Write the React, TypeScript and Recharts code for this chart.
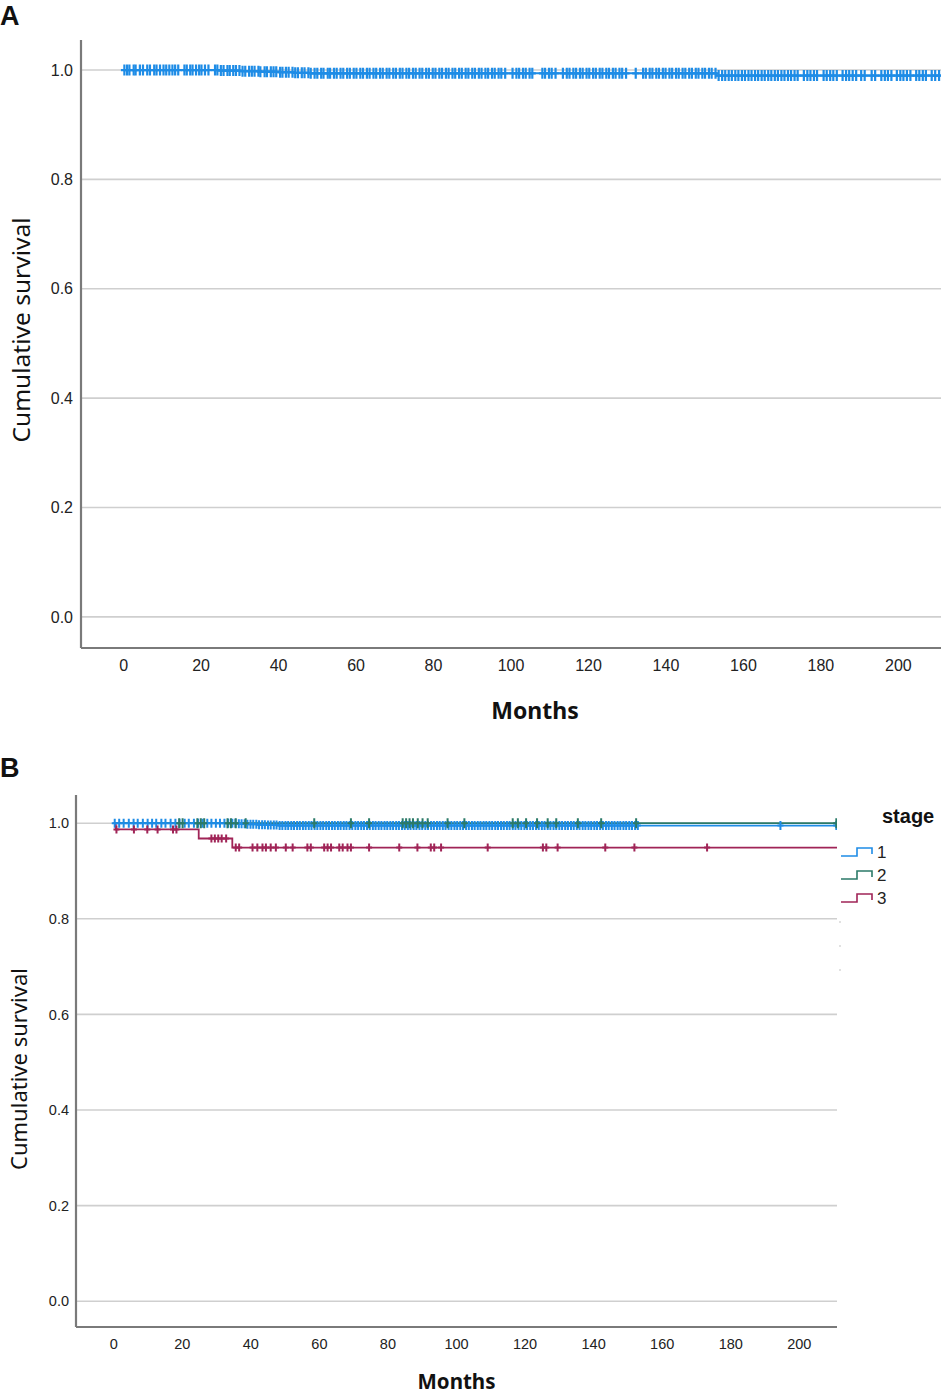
import React from 'react';
import { ComposedChart, Line, Scatter, XAxis, YAxis, CartesianGrid, Legend, Label } from 'recharts';

// ---------- tick labels ----------
const MONTH_TICKS = [0, 20, 40, 60, 80, 100, 120, 140, 160, 180, 200];
const SURV_TICKS = [0, 0.2, 0.4, 0.6, 0.8, 1.0];

// ---------- Panel A: all patients ----------
const A_STEP_TIMES = [0, 25, 30, 35, 40, 44, 48, 153, 211];
const A_STEP_SURV = [1, 0.999, 0.998, 0.997, 0.996, 0.995, 0.994, 0.99, 0.99];
const A_CENSOR = [
  0.2, 0.9, 1.5, 2.6, 3.1, 4.2, 5.0, 6.1, 6.8, 7.9, 8.5, 9.4, 10.3, 11.0, 11.8, 12.6, 13.3, 14.1,
  15.7, 16.3, 17.2, 17.8, 18.7, 19.5, 20.1, 21.0, 21.9, 23.6, 24.2, 25.1, 25.8, 26.8, 27.4, 28.3,
  29.0, 29.9, 30.7, 31.4, 32.4, 33.1, 33.8, 34.8, 35.3, 36.4, 37.0, 38.0, 38.7, 39.4, 40.4, 41.0,
  41.9, 42.6, 43.6, 44.3, 45.0, 46.0, 46.7, 47.7, 48.3, 49.3, 50.0, 51.0, 51.6, 52.7, 53.3, 54.3,
  55.0, 56.0, 56.7, 57.7, 58.4, 59.4, 60.1, 61.1, 61.8, 62.8, 63.5, 64.5, 65.2, 66.2, 66.9, 67.9,
  68.6, 69.6, 70.3, 71.3, 72.0, 73.0, 73.7, 74.7, 75.4, 76.4, 77.1, 78.1, 78.8, 79.8, 80.5, 81.5,
  82.2, 83.2, 83.9, 84.9, 85.6, 86.6, 87.3, 88.3, 89.0, 90.0, 90.7, 91.7, 92.4, 93.4, 94.1, 95.1,
  95.8, 96.8, 97.5, 98.5, 100.4, 101.4, 102.1, 103.1, 103.8, 104.8, 105.5, 108.1, 108.8, 109.8,
  110.5, 111.5, 113.4, 114.4, 115.1, 116.1, 116.8, 117.8, 118.5, 119.5, 120.2, 121.2, 121.9, 122.9,
  123.6, 124.6, 125.3, 126.3, 127.0, 128.0, 128.7, 129.7, 132.2, 134.1, 134.8, 135.8, 136.5, 137.5,
  138.2, 139.2, 139.9, 140.9, 141.6, 142.6, 143.3, 144.3, 145.0, 146.0, 146.7, 147.7, 148.4, 149.4,
  150.1, 151.1, 151.8, 152.8, 153.6, 154.5, 155.3, 156.2, 157.0, 157.9, 158.7, 159.6, 160.4, 161.3,
  162.1, 163.0, 163.8, 164.7, 165.5, 166.4, 167.2, 168.1, 168.9, 169.8, 170.6, 171.5, 172.3, 173.2,
  174.0, 175.6, 176.5, 177.3, 178.2, 179.0, 180.7, 181.5, 182.4, 183.2, 184.1, 185.6, 186.5, 187.3,
  188.2, 189.1, 190.4, 191.3, 193.1, 194.0, 195.6, 196.5, 197.3, 198.2, 199.6, 200.5, 201.3, 202.2,
  203.1, 204.6, 205.4, 206.3, 207.1, 208.6, 209.5, 210.5,
];

// ---------- Panel B: by stage ----------
const STAGE_LABELS = ['1', '2', '3'];
const STAGE_COLORS = ['#1E8CE6', '#2B7A68', '#A02457'];

const S1_STEP_TIMES = [0, 36, 39, 42, 45, 48, 211];
const S1_STEP_SURV = [1, 0.999, 0.998, 0.997, 0.996, 0.995, 0.995];
const S1_CENSOR = [
  0.3, 1.6, 2.9, 4.4, 5.8, 7.0, 8.5, 9.9, 11.2, 12.4, 13.9, 15.1, 16.6, 18.0, 19.2, 20.7, 21.9,
  23.4, 24.6, 25.9, 27.3, 28.5, 29.8, 31.0, 32.3, 33.4, 34.6, 35.5, 36.5, 37.3, 38.2, 39.0, 39.9,
  40.7, 41.6, 42.4, 43.3, 44.1, 45.0, 45.8, 46.7, 47.5, 48.4, 49.2, 50.1, 50.9, 51.8, 52.6, 53.5,
  54.3, 55.2, 56.0, 56.9, 57.7, 58.6, 59.4, 60.3, 61.1, 62.0, 62.8, 63.7, 64.5, 65.4, 66.2, 67.1,
  67.9, 68.8, 69.6, 70.5, 71.3, 72.2, 73.0, 73.9, 74.7, 75.6, 76.4, 77.3, 78.1, 79.0, 79.8, 80.7,
  81.5, 82.4, 83.2, 84.1, 84.9, 85.8, 86.6, 87.5, 88.3, 89.2, 90.0, 90.9, 91.7, 92.6, 93.4, 94.3,
  95.1, 96.0, 96.8, 97.7, 98.5, 99.4, 100.2, 101.1, 101.9, 102.8, 103.6, 104.5, 105.3, 106.2, 107.0,
  107.9, 108.7, 109.6, 110.4, 111.3, 112.1, 113.0, 113.8, 114.7, 115.5, 116.4, 117.2, 118.1, 118.9,
  119.8, 120.6, 121.5, 122.3, 123.2, 124.0, 124.9, 125.7, 126.6, 127.4, 128.3, 129.1, 130.0, 130.8,
  131.7, 132.5, 133.4, 134.2, 135.1, 135.9, 136.8, 137.6, 138.5, 139.3, 140.2, 141.0, 141.9, 142.7,
  143.6, 144.4, 145.3, 146.1, 147.0, 147.8, 148.7, 149.5, 150.4, 151.2, 152.1, 152.9, 194.5, 210.8,
];

const S2_STEP_TIMES = [0, 211];
const S2_STEP_SURV = [1, 1];
const S2_CENSOR = [
  19.1, 20.1, 24.4, 25.4, 26.4, 33.2, 34.2, 35.6, 38.5, 58.5, 69.2, 74.5, 84.3, 85.3, 86.3, 87.3,
  88.7, 90.1, 91.6, 97.4, 102.3, 116.4, 117.9, 120.3, 123.5, 126.6, 129.1, 135.4, 142.2, 152.4, 210.8,
];

const S3_STEP_TIMES = [0, 0.6, 24.8, 34.6, 211];
const S3_STEP_SURV = [1, 0.987, 0.968, 0.949, 0.949];
const S3_CENSOR = [
  0.8, 5.9, 9.8, 12.8, 17.3, 18.3, 28.5, 29.5, 30.5, 31.5, 32.8, 35.6, 36.6, 40.5, 41.9, 43.4, 44.4,
  45.8, 47.3, 50.2, 52.2, 56.5, 57.5, 61.4, 62.4, 63.4, 65.8, 66.8, 68.2, 69.2, 74.5, 83.3, 88.6,
  92.5, 93.5, 95.5, 109.1, 125.2, 126.2, 129.5, 143.4, 151.9, 173.1,
];

// ---------- helpers ----------
const toSteps = (times: number[], survs: number[]) => times.map((t, i) => ({ x: t, s: survs[i] }));
const survAt = (times: number[], survs: number[], t: number) => {
  let v = survs[0];
  for (let i = 0; i < times.length; i++) if (times[i] <= t) v = survs[i];
  return v;
};
const toCensor = (cens: number[], times: number[], survs: number[]) =>
  cens.map((t) => ({ x: t, s: survAt(times, survs, t) }));

const plusShape = (color: string, h: number, w: number, sw: number) => (props: any) => {
  const { cx, cy } = props;
  if (cx == null || cy == null) return <g />;
  return (
    <path
      d={`M${cx},${cy - h}V${cy + h}M${cx - w},${cy}H${cx + w}`}
      stroke={color}
      strokeWidth={sw}
      fill="none"
    />
  );
};

const TICK_FONT = "'Liberation Sans', Arial, sans-serif";
const TITLE_FONT = "'Noto Sans', 'Open Sans', sans-serif";
const AXIS_COLOR = '#7a7a7a';
const GRID_COLOR = '#cfcfcf';

function PanelA() {
  const steps = toSteps(A_STEP_TIMES, A_STEP_SURV);
  const cens = toCensor(A_CENSOR, A_STEP_TIMES, A_STEP_SURV);
  return (
    <ComposedChart width={945} height={740} margin={{ top: 40, right: 4, bottom: 42, left: 21 }}>
      <CartesianGrid vertical={false} horizontalValues={SURV_TICKS} stroke={GRID_COLOR} strokeWidth={1.6} />
      <XAxis
        dataKey="x"
        type="number"
        domain={[-11, 211]}
        ticks={MONTH_TICKS}
        allowDataOverflow
        height={50}
        tickLine={false}
        tickSize={0}
        tickMargin={12}
        axisLine={{ stroke: AXIS_COLOR, strokeWidth: 2.2 }}
        tick={{ fontSize: 16, fill: '#222', fontFamily: TICK_FONT }}
      >
        <Label
          content={(p: any) => {
            const vb = p.viewBox || { x: 81, width: 860 };
            return (
              <text x={vb.x + vb.width / 2 + 24} y={719} textAnchor="middle" fontFamily={TITLE_FONT}
                fontWeight="bold" fontSize={23} fill="#111">Months</text>
            );
          }}
        />
      </XAxis>
      <YAxis
        type="number"
        domain={[-0.057, 1.055]}
        ticks={SURV_TICKS}
        allowDataOverflow
        width={60}
        tickLine={false}
        tickSize={0}
        tickMargin={8}
        tickFormatter={(v: number) => v.toFixed(1)}
        axisLine={{ stroke: AXIS_COLOR, strokeWidth: 2.2 }}
        tick={{ fontSize: 16, fill: '#222', fontFamily: TICK_FONT }}
      >
        <Label
          content={() => (
            <text x={30} y={330} transform="rotate(-90, 30, 330)" textAnchor="middle" fontFamily={TITLE_FONT}
              fontSize={24} textLength={225} lengthAdjust="spacingAndGlyphs" fill="#111">Cumulative survival</text>
          )}
        />
      </YAxis>
      <Line data={steps} dataKey="s" type="stepAfter" stroke={STAGE_COLORS[0]} strokeWidth={2} dot={false}
        activeDot={false} isAnimationActive={false} legendType="none" />
      <Scatter data={cens} dataKey="s" shape={plusShape(STAGE_COLORS[0], 5.5, 3.5, 2.2)} isAnimationActive={false}
        legendType="none" />
    </ComposedChart>
  );
}

function StageLegend() {
  const ys = [52, 75, 98];
  return (
    <svg width={110} height={180}>
      <text x={47} y={23} fontFamily={TICK_FONT} fontWeight="bold" fontSize={20} fill="#111">stage</text>
      {STAGE_LABELS.map((lab, i) => (
        <g key={lab}>
          <path d={`M6,${ys[i] + 4}H22V${ys[i] - 4}H37V${ys[i] + 2}`} stroke={STAGE_COLORS[i]} strokeWidth={1.6}
            fill="none" />
          <text x={42} y={ys[i] + 6} fontFamily={TICK_FONT} fontSize={17} fill="#222">{lab}</text>
        </g>
      ))}
      {[122, 146, 170].map((y) => (
        <circle key={y} cx={5} cy={y} r={0.8} fill="#bbb" />
      ))}
    </svg>
  );
}

function PanelB() {
  const series = [
    { steps: toSteps(S1_STEP_TIMES, S1_STEP_SURV), cens: toCensor(S1_CENSOR, S1_STEP_TIMES, S1_STEP_SURV), h: 4.5 },
    { steps: toSteps(S2_STEP_TIMES, S2_STEP_SURV), cens: toCensor(S2_CENSOR, S2_STEP_TIMES, S2_STEP_SURV), h: 5 },
    { steps: toSteps(S3_STEP_TIMES, S3_STEP_SURV), cens: toCensor(S3_CENSOR, S3_STEP_TIMES, S3_STEP_SURV), h: 4 },
  ];
  return (
    <ComposedChart width={945} height={648} margin={{ top: 45, right: 108, bottom: 21, left: 16 }}>
      <CartesianGrid vertical={false} horizontalValues={SURV_TICKS} stroke={GRID_COLOR} strokeWidth={1.6} />
      <XAxis
        dataKey="x"
        type="number"
        domain={[-11, 211]}
        ticks={MONTH_TICKS}
        allowDataOverflow
        height={50}
        tickLine={false}
        tickSize={0}
        tickMargin={12}
        axisLine={{ stroke: AXIS_COLOR, strokeWidth: 2.2 }}
        tick={{ fontSize: 14.5, fill: '#222', fontFamily: TICK_FONT }}
      >
        <Label
          content={(p: any) => {
            const vb = p.viewBox || { x: 76, width: 761 };
            return (
              <text x={vb.x + vb.width / 2} y={639} textAnchor="middle" fontFamily={TITLE_FONT}
                fontWeight="bold" fontSize={20.5} fill="#111">Months</text>
            );
          }}
        />
      </XAxis>
      <YAxis
        type="number"
        domain={[-0.054, 1.059]}
        ticks={SURV_TICKS}
        allowDataOverflow
        width={60}
        tickLine={false}
        tickSize={0}
        tickMargin={7}
        tickFormatter={(v: number) => v.toFixed(1)}
        axisLine={{ stroke: AXIS_COLOR, strokeWidth: 2.2 }}
        tick={{ fontSize: 14.5, fill: '#222', fontFamily: TICK_FONT }}
      >
        <Label
          content={() => (
            <text x={27} y={319} transform="rotate(-90, 27, 319)" textAnchor="middle" fontFamily={TITLE_FONT}
              fontSize={21.5} textLength={202} lengthAdjust="spacingAndGlyphs" fill="#111">Cumulative survival</text>
          )}
        />
      </YAxis>
      <Legend
        layout="horizontal"
        verticalAlign="middle"
        align="center"
        wrapperStyle={{ left: 835, top: 50, width: 110, height: 180 }}
        content={() => <StageLegend />}
      />
      {series.map((sr, i) => (
        <Line key={`l${i}`} data={sr.steps} dataKey="s" type="stepAfter" stroke={STAGE_COLORS[i]} strokeWidth={1.8}
          dot={false} activeDot={false} isAnimationActive={false} legendType="none" />
      ))}
      {series.map((sr, i) => (
        <Scatter key={`c${i}`} data={sr.cens} dataKey="s" shape={plusShape(STAGE_COLORS[i], sr.h, 3, 2)}
          isAnimationActive={false} legendType="none" />
      ))}
    </ComposedChart>
  );
}

export default function App() {
  return (
    <div style={{ position: 'absolute', left: 0, top: 0, width: 945, height: 1398, background: '#fff' }}>
      <svg width={40} height={40} style={{ position: 'absolute', left: 0, top: 0 }}>
        <text x={0} y={25} fontFamily={TICK_FONT} fontWeight="bold" fontSize={27} fill="#111">A</text>
      </svg>
      <div style={{ position: 'absolute', left: 0, top: 0 }}>
        <PanelA />
      </div>
      <svg width={40} height={40} style={{ position: 'absolute', left: 0, top: 750 }}>
        <text x={0} y={27} fontFamily={TICK_FONT} fontWeight="bold" fontSize={27} fill="#111">B</text>
      </svg>
      <div style={{ position: 'absolute', left: 0, top: 750 }}>
        <PanelB />
      </div>
    </div>
  );
}
